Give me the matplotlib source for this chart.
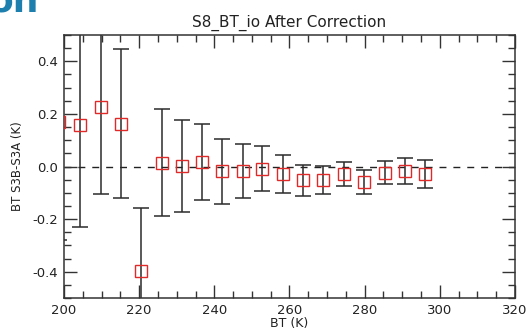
import matplotlib
matplotlib.use("Agg")
import matplotlib.pyplot as plt
from matplotlib.ticker import MultipleLocator

# Binned brightness temperatures (K) and mean S3B-S3A differences (K)
bt = [198.8, 204.3, 209.8, 215.1, 220.6, 226.0, 231.5, 236.8, 242.1, 247.5,
      252.8, 258.3, 263.6, 269.0, 274.4, 279.9, 285.3, 290.7, 296.1]
diff = [0.170, 0.157, 0.226, 0.163, -0.399, 0.014, 0.001, 0.016, -0.018, -0.018,
        -0.009, -0.028, -0.053, -0.052, -0.027, -0.060, -0.024, -0.017, -0.029]
# standard deviation within each bin
std = [0.450, 0.388, 0.330, 0.284, 0.242, 0.203, 0.175, 0.145, 0.124, 0.102,
       0.086, 0.071, 0.059, 0.053, 0.046, 0.045, 0.044, 0.049, 0.052]

title = "S8_BT_io After Correction"
xlabel = "BT (K)"
ylabel = "BT S3B-S3A (K)"

fig = plt.figure(figsize=(5.27, 3.29), dpi=100)
ax = fig.add_axes([0.1214, 0.0942, 0.8558, 0.7994])

ax.axhline(0.0, color="#222222", lw=1.0, ls=(0, (5, 5)), zorder=1)
ax.errorbar(bt, diff, yerr=std, fmt="none", ecolor="#2b2b2b", elinewidth=1.1,
            capsize=6, capthick=1.1, zorder=2)
ax.plot(bt, diff, ls="none", marker="s", ms=8, mfc="none", mec="#e02a2a",
        mew=1.0, zorder=3)

ax.set_xlim(200, 320)
ax.set_ylim(-0.5, 0.5)
ax.xaxis.set_major_locator(MultipleLocator(20))
ax.xaxis.set_minor_locator(MultipleLocator(5))
ax.yaxis.set_major_locator(MultipleLocator(0.2))
ax.yaxis.set_minor_locator(MultipleLocator(0.05))
ax.set_yticks([-0.4, -0.2, 0.0, 0.2, 0.4])
ax.set_yticklabels(["-0.4", "-0.2", "0.0", "0.2", "0.4"])

ax.tick_params(which="both", direction="in", top=True, right=True,
               colors="#333333", labelcolor="#222222", labelsize=9.5, width=1.0)
ax.tick_params(which="major", length=9.5, pad=4)
ax.tick_params(which="minor", length=5)
for s in ax.spines.values():
    s.set_color("#333333")
    s.set_linewidth(1.1)

ax.set_title(title, fontsize=11, color="#222222", pad=6)
ax.set_xlabel(xlabel, fontsize=9, color="#222222", labelpad=0.5)
ax.set_ylabel(ylabel, fontsize=8.5, color="#222222", labelpad=6)

# clipped banner lettering at the top-left corner
fig.text(-0.022, 1 - 12 / 329, "on", fontsize=26, fontweight="bold",
         color="#1c7fad", va="baseline", ha="left")

fig.savefig("out.png", dpi=100)
